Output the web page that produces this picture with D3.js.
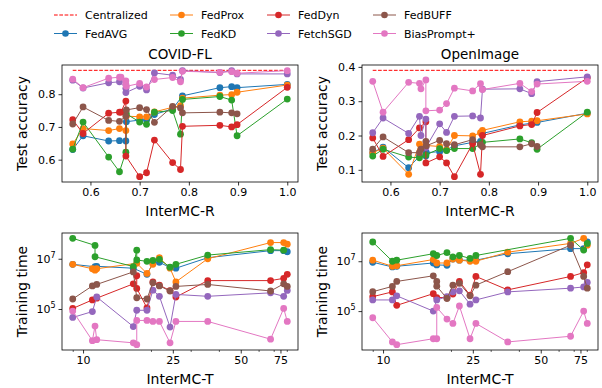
<!DOCTYPE html>
<html>
<head>
<meta charset="utf-8">
<script src="https://cdn.jsdelivr.net/npm/d3@7"></script>
<style>
  body { margin: 0; background: #fff; }
  text { font-family: "DejaVu Sans", sans-serif; fill: #000; }
</style>
</head>
<body>
<svg id="chart" width="602" height="388"></svg>
<script>
// series names and colours (matplotlib tab10 order)
const methods = ["FedAVG", "FedProx", "FedKD", "FedDyn", "FetchSGD", "FedBUFF", "BiasPrompt+"];
const colors = ["#1f77b4", "#ff7f0e", "#2ca02c", "#d62728", "#9467bd", "#8c564b", "#e377c2"];
const titles = ["COVID-FL", "OpenImage"];
const centralAcc = [0.873, 0.39];
const rTicks = [0.6, 0.7, 0.8, 0.9, 1.0];
const tTicks = [10, 25, 50, 75];
const tMinor = [9, 20, 30, 40, 60, 70, 80];
const timeTicks = [1e5, 1e7];

// test accuracy vs InterMC-R, COVID-FL  ([R, acc] per method)
const covidAcc = [
  [[0.564,0.631],[0.585,0.673],[0.637,0.657],[0.659,0.658],[0.672,0.657],[0.673,0.716],[0.700,0.721],[0.714,0.721],[0.730,0.738],[0.767,0.755],[0.787,0.795],[0.863,0.820],[0.887,0.823],[0.898,0.820],[1.0,0.830]],
  [[0.564,0.648],[0.585,0.695],[0.637,0.689],[0.659,0.695],[0.672,0.689],[0.673,0.733],[0.700,0.731],[0.714,0.731],[0.730,0.746],[0.767,0.760],[0.783,0.765],[0.787,0.788],[0.863,0.797],[0.887,0.799],[0.898,0.806],[1.0,0.828]],
  [[0.564,0.632],[0.585,0.715],[0.637,0.608],[0.659,0.563],[0.672,0.623],[0.673,0.740],[0.700,0.715],[0.714,0.708],[0.730,0.745],[0.767,0.750],[0.783,0.678],[0.787,0.784],[0.863,0.793],[0.887,0.782],[0.898,0.673],[1.0,0.785]],
  [[0.564,0.722],[0.585,0.680],[0.637,0.742],[0.659,0.745],[0.662,0.745],[0.672,0.779],[0.672,0.611],[0.700,0.548],[0.714,0.560],[0.730,0.660],[0.767,0.591],[0.783,0.570],[0.787,0.702],[0.863,0.705],[0.887,0.700],[0.898,0.707],[1.0,0.821]],
  [[0.564,0.843],[0.585,0.819],[0.637,0.835],[0.659,0.838],[0.672,0.818],[0.672,0.805],[0.700,0.824],[0.714,0.813],[0.730,0.865],[0.767,0.858],[0.783,0.845],[0.787,0.872],[0.863,0.866],[0.887,0.872],[0.898,0.862],[1.0,0.862]],
  [[0.564,0.709],[0.585,0.761],[0.637,0.720],[0.659,0.717],[0.672,0.733],[0.673,0.752],[0.700,0.759],[0.714,0.753],[0.730,0.714],[0.767,0.763],[0.783,0.758],[0.787,0.743],[0.863,0.745],[0.887,0.743],[0.898,0.740]],
  [[0.564,0.846],[0.585,0.820],[0.637,0.849],[0.659,0.852],[0.662,0.852],[0.672,0.841],[0.672,0.831],[0.673,0.824],[0.700,0.833],[0.714,0.822],[0.730,0.845],[0.767,0.851],[0.783,0.838],[0.787,0.870],[0.863,0.867],[0.887,0.869],[0.898,0.864],[1.0,0.872]]
];

// test accuracy vs InterMC-R, OpenImage
const openAcc = [
  [[0.564,0.150],[0.585,0.166],[0.637,0.106],[0.659,0.140],[0.672,0.140],[0.673,0.150],[0.700,0.153],[0.714,0.158],[0.730,0.170],[0.767,0.180],[0.783,0.183],[0.787,0.206],[0.863,0.231],[0.887,0.236],[0.898,0.238],[1.0,0.265]],
  [[0.564,0.150],[0.585,0.163],[0.637,0.087],[0.659,0.175],[0.672,0.171],[0.700,0.168],[0.714,0.158],[0.730,0.200],[0.767,0.199],[0.783,0.208],[0.787,0.215],[0.863,0.240],[0.887,0.242],[0.898,0.243],[1.0,0.263]],
  [[0.564,0.140],[0.585,0.160],[0.637,0.137],[0.659,0.135],[0.672,0.143],[0.700,0.162],[0.714,0.156],[0.730,0.162],[0.767,0.162],[0.783,0.175],[0.787,0.180],[0.863,0.190],[0.887,0.179],[0.898,0.160],[1.0,0.268]],
  [[0.564,0.193],[0.585,0.139],[0.637,0.188],[0.659,0.222],[0.672,0.240],[0.672,0.120],[0.700,0.138],[0.714,0.120],[0.730,0.080],[0.767,0.176],[0.783,0.087],[0.787,0.200],[0.863,0.228],[0.887,0.232],[0.898,0.267],[1.0,0.368]],
  [[0.564,0.208],[0.585,0.251],[0.637,0.206],[0.659,0.256],[0.662,0.200],[0.672,0.248],[0.672,0.165],[0.700,0.234],[0.714,0.209],[0.730,0.256],[0.767,0.257],[0.783,0.251],[0.787,0.335],[0.863,0.336],[0.887,0.322],[0.898,0.357],[1.0,0.371]],
  [[0.564,0.160],[0.585,0.196],[0.637,0.150],[0.659,0.150],[0.662,0.160],[0.672,0.183],[0.673,0.170],[0.700,0.186],[0.714,0.176],[0.730,0.173],[0.767,0.188],[0.783,0.173],[0.787,0.167],[0.863,0.167],[0.887,0.176],[0.898,0.168]],
  [[0.564,0.358],[0.585,0.268],[0.637,0.355],[0.659,0.352],[0.662,0.336],[0.672,0.362],[0.672,0.272],[0.700,0.274],[0.714,0.293],[0.730,0.338],[0.767,0.330],[0.783,0.351],[0.787,0.334],[0.863,0.352],[0.887,0.328],[0.898,0.350],[1.0,0.358]]
];

// training time vs InterMC-T, COVID-FL
const covidTime = [
  [[9.0,6.0e6],[11.3,4.8e6],[11.5,5.0e6],[16.7,4.2e6],[19.2,2.4e6],[20.4,6.6e6],[21.8,7.2e6],[24.3,4.5e6],[25.8,4.2e6],[35.7,1.1e7],[67.8,2.1e7],[77.5,2.1e7],[80.4,1.9e7]],
  [[9.0,6.0e6],[11.0,4.0e6],[11.3,3.5e6],[11.5,4.0e6],[17.3,6.6e6],[19.2,2.6e6],[20.4,6.0e6],[21.8,1.1e7],[24.3,4.2e6],[25.8,1.2e6],[35.7,1.0e7],[67.8,4.4e7],[77.5,4.4e7],[80.4,3.8e7]],
  [[9.0,6.5e7],[11.3,3.4e7],[11.3,1.2e7],[16.7,4.9e6],[17.3,2.2e7],[17.3,8.9e6],[19.2,7.9e6],[20.4,8.5e6],[21.8,9.5e6],[24.3,4.6e6],[25.8,6.0e6],[35.7,1.4e7],[67.8,2.3e7],[77.5,2.2e7]],
  [[9.0,1.05e5],[11.0,2.3e5],[11.5,2.7e5],[16.7,1.0e6],[17.3,2.1e6],[17.3,6.6e5],[19.2,1.1e5],[20.4,1.2e6],[21.8,8.9e5],[24.3,5.4e5],[25.8,3.0e5],[35.7,1.35e6],[67.8,1.35e6],[77.5,1.66e6],[80.4,2.4e6]],
  [[9.0,4.6e4],[11.0,7.9e4],[11.5,3.0e5],[16.7,2.0e4],[17.3,8.9e4],[19.2,8.9e4],[20.4,5.6e5],[21.8,3.2e5],[24.3,1.9e4],[25.8,3.8e5],[35.7,3.2e5],[67.8,4.4e5],[77.5,3.2e5],[80.4,5.5e5]],
  [[9.0,2.5e5],[11.0,8.3e5],[11.5,9.5e5],[16.7,3.0e6],[17.3,2.8e5],[19.2,2.5e5],[20.4,1.1e6],[21.8,8.3e5],[24.3,5.2e5],[25.8,7.9e5],[35.7,9.5e5],[67.8,5.2e5],[77.5,1.0e6],[80.4,7.9e5]],
  [[9.0,8.3e4],[11.0,5.5e3],[11.3,2.1e4],[11.5,6.0e3],[16.7,4.5e3],[17.3,3.8e3],[17.3,3.5e4],[19.2,3.5e4],[20.4,3.2e4],[21.8,3.2e4],[24.3,4.5e3],[25.8,3.2e4],[35.7,3.2e4],[67.8,6.3e3],[77.5,1.05e5],[80.4,3.2e4]]
];

// training time vs InterMC-T, OpenImage
const openTime = [
  [[9.0,9.1e6],[11.0,5.9e6],[11.5,6.3e6],[16.7,8.5e6],[17.3,7.1e6],[19.2,6.9e6],[20.4,1.23e7],[21.8,1.1e7],[24.3,1.1e7],[25.8,1.1e7],[35.7,2.0e7],[67.8,3.2e7],[77.5,3.2e7],[80.4,6.0e7]],
  [[9.0,1.1e7],[11.0,6.3e6],[11.5,6.6e6],[16.7,1.17e7],[17.3,8.5e6],[19.2,8.5e6],[20.4,1.23e7],[21.8,1.1e7],[24.3,1.0e7],[25.8,1.0e7],[35.7,2.3e7],[67.8,5.2e7],[77.5,8.3e7],[80.4,4.4e7]],
  [[9.0,5.9e7],[11.0,1.0e7],[11.5,1.1e7],[16.7,2.0e7],[17.3,1.7e7],[19.2,2.2e7],[20.4,1.5e7],[21.8,1.7e7],[24.3,1.3e7],[25.8,1.7e7],[67.8,8.3e7],[77.5,2.8e7],[80.4,5.2e7]],
  [[9.0,3.8e5],[11.0,5.9e5],[11.5,1.7e5],[16.7,5.0e5],[17.3,3.5e5],[19.2,3.5e5],[20.4,4.8e5],[21.8,1.55e6],[24.3,4.4e5],[25.8,2.45e6],[35.7,7.1e5],[67.8,2.45e6],[77.5,3.5e6],[80.4,7.2e6]],
  [[9.0,2.8e5],[11.0,2.8e5],[11.5,4.1e5],[16.7,1.0e5],[17.3,2.8e5],[19.2,3.8e5],[20.4,5.9e5],[21.8,6.5e5],[24.3,1.9e5],[25.8,2.8e5],[35.7,5.9e5],[67.8,8.3e5],[77.5,9.3e5],[80.4,1.4e6]],
  [[9.0,6.0e5],[11.0,9.8e5],[11.5,1.55e6],[16.7,2.6e6],[17.3,1.55e6],[17.3,1.0e6],[19.2,3.2e5],[20.4,1.1e6],[21.8,1.3e6],[24.3,4.1e5],[25.8,1.1e6],[35.7,3.8e6],[67.8,4.4e7],[77.5,2.45e6],[80.4,8.3e5]],
  [[9.0,5.4e4],[11.0,5.8e3],[11.5,4.5e3],[16.7,7.8e3],[17.3,7.8e3],[17.3,1.4e5],[19.2,4.8e4],[20.4,3.2e4],[21.8,1.6e5],[24.3,7.8e3],[25.8,3.2e4],[35.7,5.8e3],[67.8,9.8e3],[77.5,1.0e5],[80.4,3.2e4]]
];

const svg = d3.select("#chart");
const W = 236, H = 117;

// matplotlib style 5% margins
function padLin(vals) {
  const [a, b] = d3.extent(vals), m = (b - a) * 0.05;
  return [a - m, b + m];
}
function padLog(vals) {
  const [a, b] = d3.extent(vals).map(Math.log10), m = (b - a) * 0.05;
  return [Math.pow(10, a - m), Math.pow(10, b + m)];
}

function supLabel(sel) {
  sel.each(function(d) {
    const t = d3.select(this).text("");
    t.append("tspan").text("10");
    t.append("tspan").attr("dy", -5).attr("font-size", 8).text(Math.round(Math.log10(d)));
  });
}

function panel(px, py, data, opts) {
  const g = svg.append("g").attr("transform", `translate(${px},${py})`);
  const xs = data.flat().map(d => d[0]);
  const ys = data.flat().map(d => d[1]);
  if (opts.central != null) ys.push(opts.central);

  const x = opts.logX ? d3.scaleLog().domain(padLog(xs)) : d3.scaleLinear().domain(padLin(xs));
  x.range([0, W]);
  const y = opts.logY ? d3.scaleLog().domain(padLog(ys)) : d3.scaleLinear().domain(padLin(ys));
  y.range([H, 0]);

  // x axis
  const xa = d3.axisBottom(x).tickValues(opts.xTicks).tickSize(3.5).tickPadding(3)
    .tickFormat(opts.logX ? d3.format("d") : d3.format(".1f"));
  const gx = g.append("g").attr("transform", `translate(0,${H})`).call(xa);
  if (opts.logX) {
    g.append("g").attr("transform", `translate(0,${H})`)
      .call(d3.axisBottom(x).tickValues(tMinor).tickSize(2).tickFormat(""))
      .call(a => a.select(".domain").remove())
      .call(a => a.selectAll(".tick line").attr("stroke-width", 0.6));
  }

  // y axis
  let ya;
  if (opts.logY) {
    ya = d3.axisLeft(y).tickValues(timeTicks).tickSize(3.5).tickPadding(3);
  } else {
    ya = d3.axisLeft(y).tickValues(opts.yTicks).tickSize(3.5).tickPadding(3).tickFormat(d3.format(".1f"));
  }
  const gy = g.append("g").call(ya);
  if (opts.logY) gy.selectAll(".tick text").call(supLabel);

  [gx, gy].forEach(a => {
    a.select(".domain").remove();
    a.selectAll(".tick line").attr("stroke", "#000").attr("stroke-width", 0.8);
    a.selectAll(".tick text").attr("font-size", 11).attr("font-family", "DejaVu Sans").attr("fill", "#000");
  });

  // centralized reference
  if (opts.central != null) {
    const [r0, r1] = d3.extent(xs);
    g.append("line")
      .attr("x1", x(r0)).attr("x2", x(r1))
      .attr("y1", y(opts.central)).attr("y2", y(opts.central))
      .attr("stroke", "red").attr("stroke-width", 1).attr("stroke-dasharray", "3.7,1.6");
  }

  const line = d3.line().x(d => x(d[0])).y(d => y(d[1]));
  data.forEach((s, i) => {
    g.append("path").datum(s)
      .attr("fill", "none").attr("stroke", colors[i]).attr("stroke-width", 1)
      .attr("d", line);
    g.selectAll(null).data(s).enter().append("circle")
      .attr("cx", d => x(d[0])).attr("cy", d => y(d[1])).attr("r", 3.4)
      .attr("fill", colors[i]);
  });

  g.append("rect").attr("width", W).attr("height", H)
    .attr("fill", "none").attr("stroke", "#000").attr("stroke-width", 0.8);

  if (opts.title) {
    g.append("text").attr("x", W / 2).attr("y", -6).attr("text-anchor", "middle")
      .attr("font-size", 13.5).text(opts.title);
  }
  g.append("text").attr("x", W / 2).attr("y", H + 34).attr("text-anchor", "middle")
    .attr("font-size", 14).text(opts.xLabel);
  g.append("text").attr("transform", `translate(-35,${H / 2}) rotate(-90)`)
    .attr("text-anchor", "middle").attr("font-size", 14).text(opts.yLabel);
}

panel(62, 65, covidAcc, { title: titles[0], central: centralAcc[0], xTicks: rTicks, yTicks: [0.6, 0.7, 0.8], xLabel: "InterMC-R", yLabel: "Test accuracy" });
panel(362, 65, openAcc, { title: titles[1], central: centralAcc[1], xTicks: rTicks, yTicks: [0.1, 0.2, 0.3, 0.4], xLabel: "InterMC-R", yLabel: "Test accuracy" });
panel(62, 233, covidTime, { logX: true, logY: true, xTicks: tTicks, xLabel: "InterMC-T", yLabel: "Training time" });
panel(362, 233, openTime, { logX: true, logY: true, xTicks: tTicks, xLabel: "InterMC-T", yLabel: "Training time" });

// legend (column-major, 4 columns)
const legItems = [{ name: "Centralized", color: "red", dashed: true }]
  .concat(methods.map((m, i) => ({ name: m, color: colors[i] })));
const colX = [54, 170, 267, 373];
const rowY = [15, 33.5];
const leg = svg.append("g");
legItems.forEach((it, k) => {
  const cx = colX[Math.floor(k / 2)], cy = rowY[k % 2];
  leg.append("line").attr("x1", cx).attr("x2", cx + 23).attr("y1", cy).attr("y2", cy)
    .attr("stroke", it.color).attr("stroke-width", 1)
    .attr("stroke-dasharray", it.dashed ? "3.7,1.6" : null);
  if (!it.dashed) leg.append("circle").attr("cx", cx + 11.5).attr("cy", cy).attr("r", 3.3).attr("fill", it.color);
  leg.append("text").attr("x", cx + 31).attr("y", cy + 4).attr("font-size", 11).text(it.name);
});
</script>
</body>
</html>
